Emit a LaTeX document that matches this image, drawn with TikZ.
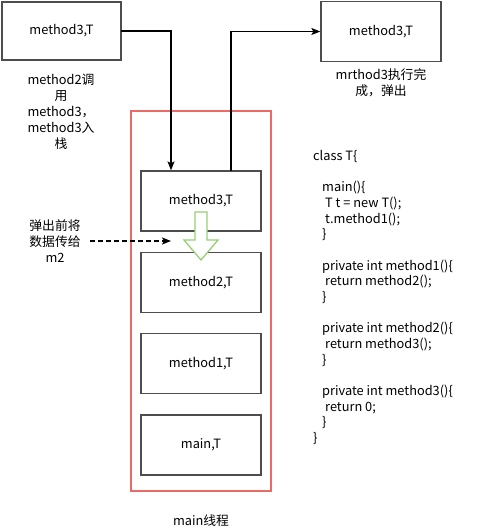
\documentclass[tikz,border=0pt]{standalone}
\usepackage{fontspec}
\setmainfont{Noto Sans CJK SC}
\usepackage{tikz}
\usetikzlibrary{positioning}
\usetikzlibrary{arrows.meta}
\definecolor{boxline}{RGB}{77,77,77}
\definecolor{stackred}{RGB}{234,107,102}
\definecolor{popgreen}{RGB}{151,208,119}
\tikzstyle{frame}=[draw=boxline,line width=1.3,minimum width=120,minimum height=60,
                   inner sep=0,font=\fontsize{12.8}{14}\selectfont]
\tikzstyle{note}=[align=center,inner sep=0,font=\fontsize{12.8}{16}\selectfont]
\tikzstyle{code}=[align=left,inner sep=0,font=\fontsize{12.8}{15.67}\selectfont]
\tikzset{>={Stealth[length=9pt,width=7pt,inset=2pt]}}
\tikzstyle{link}=[->,line width=1.3,line cap=round]

\begin{document}
\begin{tikzpicture}[x=1pt,y=-1pt,node distance=20pt]
\useasboundingbox (0,0) rectangle (492,532);

% Thread stack
\node[draw=stackred,line width=1.3,minimum width=140,minimum height=380] (stack) at (201,301) {};
\node[frame] (m3) at (201,201) {method3,T};
\node[frame,below=of m3] (m2) {method2,T};
\node[frame,below=of m2] (m1) {method1,T};
\node[frame,below=of m1] (mainf) {main,T};
\node[note] (thread) at (201,521) {main线程};

% Pushed and popped frames
\node[frame,minimum width=119,minimum height=58] (pushed) at (61.5,31) {method3,T};
\node[note] (pushtxt) at (61,112) {method2调\\用\\method3，\\method3入\\栈};
\node[frame] (popped) at (381,31.5) {method3,T};
\node[note] (poptxt) at (381,83) {mrthod3执行完\\成，弹出};

% Push and pop
\draw[link] (pushed.east) -| ([xshift=-30]m3.north);
\draw[link] ([xshift=30]m3.north) |- (popped.west);

% Hand the result down
\node[note] (passtxt) at (55,241) {弹出前将\\数据传给\\m2};
\coordinate (handoff) at (171,241);
\draw[link,line cap=butt,dash pattern=on 5pt off 3pt,shorten <=9pt] (passtxt.east) -- (handoff);
\draw[popgreen,line width=1.3,fill=white] (195,212) -- (207,212) -- (207,240) -- (218,240)
  -- (201,260) -- (184,240) -- (195,240) -- cycle;

% Source code
\node[code,anchor=north west] (src) at (313,150) {class T\{\\
~\\
\hspace{9pt}main()\{\\
\hspace{12pt}T t = new T();\\
\hspace{12pt}t.method1();\\
\hspace{9pt}\}\\
~\\
\hspace{9pt}private int method1()\{\\
\hspace{12pt}return method2();\\
\hspace{9pt}\}\\
~\\
\hspace{9pt}private int method2()\{\\
\hspace{12pt}return method3();\\
\hspace{9pt}\}\\
~\\
\hspace{9pt}private int method3()\{\\
\hspace{12pt}return 0;\\
\hspace{9pt}\}\\
\}};

\end{tikzpicture}
\end{document}
